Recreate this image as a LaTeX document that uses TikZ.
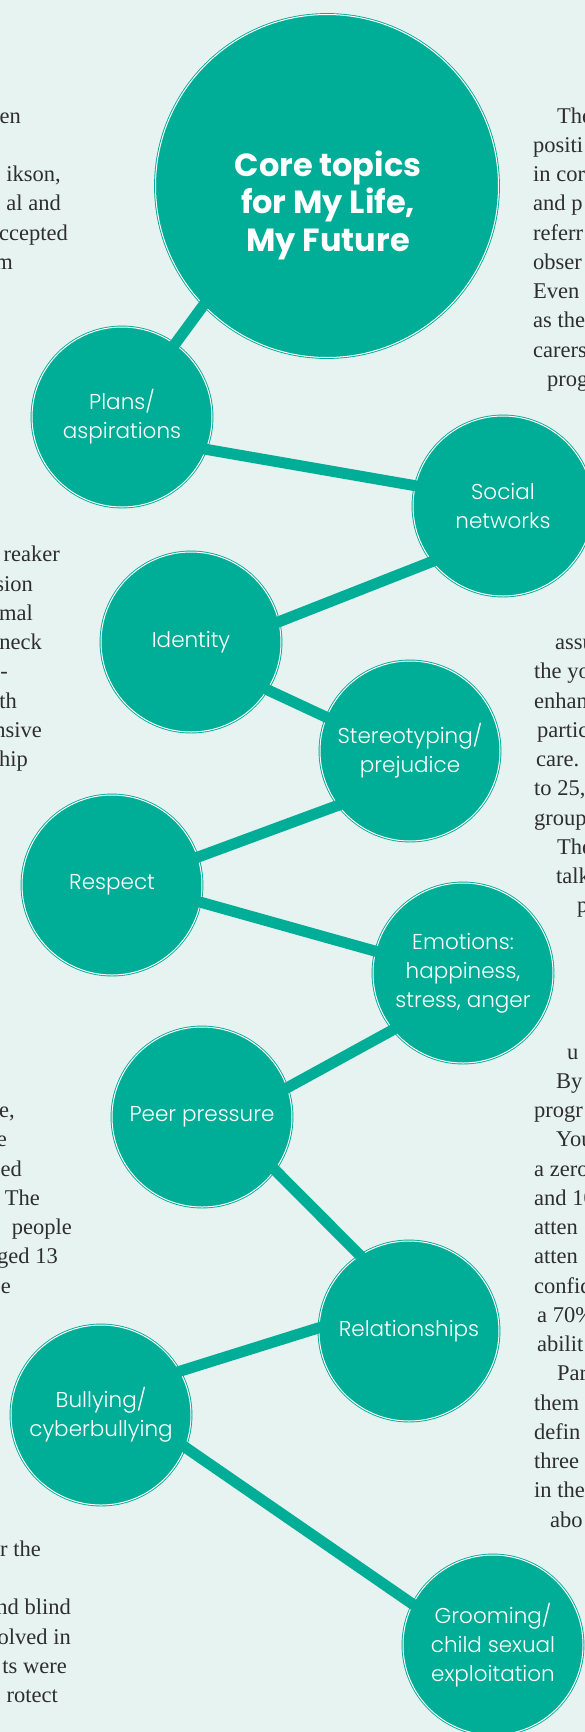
\documentclass[tikz,border=0pt]{standalone}
\usepackage{fontspec}
\setmainfont{Liberation Serif}
\newfontfamily\topicfont{Poppins}[UprightFont={* Light}, BoldFont={* Bold}]

\definecolor{brand}{HTML}{00AE97}
\definecolor{paper}{HTML}{E7F3F0}
\definecolor{ink}{HTML}{2E2E2E}

\tikzset{
  topic/.style={circle, fill=brand, draw=brand, double=white, double distance=1pt,
    line width=0.9pt, minimum size=180pt, inner sep=0pt, text=white, align=center,
    font=\topicfont\fontsize{21.5}{29}\selectfont},
  link/.style={draw=brand, line width=11pt, shorten <=-5pt, shorten >=-5pt},
  lfrag/.style={anchor=base east, inner sep=0pt, text=ink, font=\fontsize{22.5}{26}\selectfont},
  rfrag/.style={anchor=base west, inner sep=0pt, text=ink, font=\fontsize{22.5}{26}\selectfont}
}

\begin{document}
\begin{tikzpicture}[x=1pt, y=-1pt]
    \useasboundingbox (0,0) rectangle (585,1732);
    \fill [paper] (0,0) rectangle (585,1732);

    % text running past the left edge
    \node [lfrag] (l1) at (21, 123) {en};
    \node [lfrag] (l2) at (61, 181.5) {ikson,};
    \node [lfrag] (l3) at (61, 210.75) {al and};
    \node [lfrag] (l4) at (68, 240) {ccepted};
    \node [lfrag] (l5) at (13, 269.25) {m};
    \node [lfrag] (l6) at (60, 561.75) {reaker};
    \node [lfrag] (l7) at (33, 591) {sion};
    \node [lfrag] (l8) at (33, 620.25) {mal};
    \node [lfrag] (l9) at (42, 649.5) {neck};
    \node [lfrag] (l10) at (8, 678.75) {-};
    \node [lfrag] (l11) at (17, 708) {th};
    \node [lfrag] (l12) at (42, 737.25) {nsive};
    \node [lfrag] (l13) at (28, 766.5) {hip};
    \node [lfrag] (l14) at (15, 1117.5) {e,};
    \node [lfrag] (l15) at (7, 1146.75) {e};
    \node [lfrag] (l16) at (22, 1176) {ed};
    \node [lfrag] (l17) at (40, 1205.25) {The};
    \node [lfrag] (l18) at (72, 1234.5) {people};
    \node [lfrag] (l19) at (58, 1263.75) {ged 13};
    \node [lfrag] (l20) at (11, 1293) {e};
    \node [lfrag] (l21) at (41, 1556.25) {r the};
    \node [lfrag] (l22) at (71, 1614.75) {nd blind};
    \node [lfrag] (l23) at (71, 1644) {olved in};
    \node [lfrag] (l24) at (67, 1673.25) {ts were};
    \node [lfrag] (l25) at (58, 1702.5) {rotect};

    % text running past the right edge
    \node [rfrag] (r1) at (557, 123) {The};
    \node [rfrag] (r2) at (533, 152.25) {positi};
    \node [rfrag] (r3) at (533, 181.5) {in cor};
    \node [rfrag] (r4) at (533, 210.75) {and p};
    \node [rfrag] (r5) at (533, 240) {referr};
    \node [rfrag] (r6) at (533, 269.25) {obser};
    \node [rfrag] (r7) at (533, 298.5) {Even};
    \node [rfrag] (r8) at (533, 327.75) {as the};
    \node [rfrag] (r9) at (533, 357) {carers};
    \node [rfrag] (r10) at (547, 386.25) {prog};
    \node [rfrag] (r11) at (555, 649.5) {assu};
    \node [rfrag] (r12) at (534, 678.75) {the yo};
    \node [rfrag] (r13) at (534, 708) {enhan};
    \node [rfrag] (r14) at (537, 737.25) {partic};
    \node [rfrag] (r15) at (536, 766.5) {care.};
    \node [rfrag] (r16) at (534, 795.75) {to 25,};
    \node [rfrag] (r17) at (534, 825) {group};
    \node [rfrag] (r18) at (557, 854.25) {The};
    \node [rfrag] (r19) at (556, 883.5) {talk};
    \node [rfrag] (r20) at (577, 912.75) {p};
    \node [rfrag] (r21) at (567, 1059) {u};
    \node [rfrag] (r22) at (556, 1088.25) {By};
    \node [rfrag] (r23) at (534, 1117.5) {progr};
    \node [rfrag] (r24) at (556, 1146.75) {You};
    \node [rfrag] (r25) at (534, 1176) {a zero};
    \node [rfrag] (r26) at (534, 1205.25) {and 10};
    \node [rfrag] (r27) at (534, 1234.5) {atten};
    \node [rfrag] (r28) at (534, 1263.75) {atten};
    \node [rfrag] (r29) at (534, 1293) {confid};
    \node [rfrag] (r30) at (537, 1322.25) {a 70\%};
    \node [rfrag] (r31) at (537, 1351.5) {abilit};
    \node [rfrag] (r32) at (557, 1380.75) {Par};
    \node [rfrag] (r33) at (534, 1410) {them};
    \node [rfrag] (r34) at (534, 1439.25) {defin};
    \node [rfrag] (r35) at (534, 1468.5) {three};
    \node [rfrag] (r36) at (534, 1497.75) {in the};
    \node [rfrag] (r37) at (550, 1527) {abo};

    % topic circles
    \node [topic, minimum size=343pt] (a) at (327, 186) {};
    \node [topic] (b) at (122, 417) {Plans/\\aspirations};
    \node [topic] (c) at (503, 506) {Social\\networks};
    \node [topic] (d) at (191, 642) {Identity};
    \node [topic] (e) at (410, 751) {Stereotyping/\\prejudice};
    \node [topic] (f) at (112, 885) {Respect};
    \node [topic] (g) at (463, 973) {Emotions:\\happiness,\\stress, anger};
    \node [topic] (h) at (202, 1117) {Peer pressure};
    \node [topic] (i) at (409, 1331) {Relationships};
    \node [topic] (j) at (101, 1415) {Bullying/\\cyberbullying};
    \node [topic] (k) at (493, 1645) {Grooming/\\child sexual\\exploitation};

    \node [text=white, align=center, font=\topicfont\bfseries\fontsize{32}{37.5}\selectfont]
        (t) at (328, 205) {Core topics\\for My Life,\\My Future};

    \draw [link] (a.224) -- (b.54);
    \draw [link] (b.-21) -- (c.167);
    \draw [link] (c.218) -- (d.13);
    \draw [link] (d.-32) -- (e.158);
    \draw [link] (e.217) -- (f.18);
    \draw [link] (f.-11) -- (g.166);
    \draw [link] (g.219) -- (h.19);
    \draw [link] (h.-36) -- (i.123);
    \draw [link] (i.178) -- (j.29);
    \draw [link] (j.-21) -- (k.153);
\end{tikzpicture}
\end{document}
